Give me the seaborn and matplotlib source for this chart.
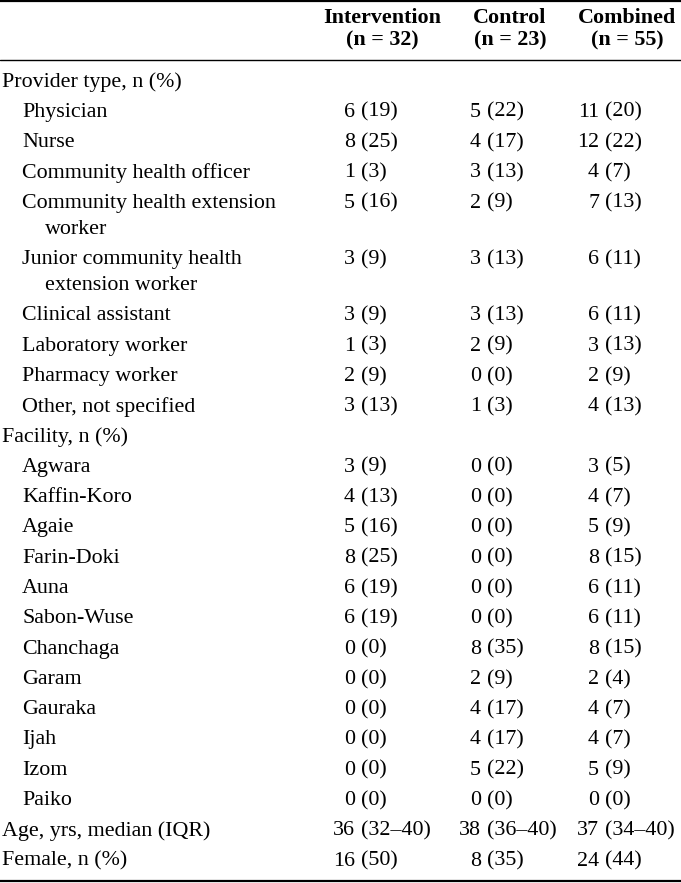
import matplotlib
matplotlib.use('Agg')
import matplotlib.pyplot as plt
import seaborn as sns
import pandas as pd

# -- Table content ------------------------------------------------------------
columns    = ['Intervention', 'Control', 'Combined']
col_counts = ['(n = 32)', '(n = 23)', '(n = 55)']

row_labels = [
    'Provider type, n (%)',
    'Physician', 'Nurse', 'Community health officer',
    'Community health extension\nworker',
    'Junior community health\nextension worker',
    'Clinical assistant', 'Laboratory worker', 'Pharmacy worker',
    'Other, not specified',
    'Facility, n (%)',
    'Agwara', 'Kaffin-Koro', 'Agaie', 'Farin-Doki', 'Auna', 'Sabon-Wuse',
    'Chanchaga', 'Garam', 'Gauraka', 'Ijah', 'Izom', 'Paiko',
    'Age, yrs, median (IQR)',
    'Female, n (%)',
]
row_level = [0, 1, 1, 1, 1, 1, 1, 1, 1, 1,
             0, 1, 1, 1, 1, 1, 1, 1, 1, 1, 1, 1, 1,
             0, 0]

intervention = ['', '6 (19)', '8 (25)', '1 (3)', '5 (16)', '3 (9)', '3 (9)', '1 (3)',
                '2 (9)', '3 (13)', '', '3 (9)', '4 (13)', '5 (16)', '8 (25)',
                '6 (19)', '6 (19)', '0 (0)', '0 (0)', '0 (0)', '0 (0)', '0 (0)',
                '0 (0)', '36 (32–40)', '16 (50)']
control = ['', '5 (22)', '4 (17)', '3 (13)', '2 (9)', '3 (13)', '3 (13)', '2 (9)',
           '0 (0)', '1 (3)', '', '0 (0)', '0 (0)', '0 (0)', '0 (0)', '0 (0)',
           '0 (0)', '8 (35)', '2 (9)', '4 (17)', '4 (17)', '5 (22)', '0 (0)',
           '38 (36–40)', '8 (35)']
combined = ['', '11 (20)', '12 (22)', '4 (7)', '7 (13)', '6 (11)', '6 (11)',
            '3 (13)', '2 (9)', '4 (13)', '', '3 (5)', '4 (7)', '5 (9)', '8 (15)',
            '6 (11)', '6 (11)', '8 (15)', '2 (4)', '4 (7)', '4 (7)', '5 (9)',
            '0 (0)', '37 (34–40)', '24 (44)']

df = pd.DataFrame({'label': row_labels, 'level': row_level,
                   'Intervention': intervention, 'Control': control,
                   'Combined': combined})

# -- Layout (pixels) ----------------------------------------------------------
W, H = 681, 883
FS = 15.8
FONT = ['Liberation Serif', 'DejaVu Serif']
head_x  = [382, 510, 627]      # header centres
paren_x = [361, 487, 605]      # where "(" of each cell starts
indent  = [2, 22]
wrap_indent = 45
first_row_y = 82
pitch, wrap_gap = 30.3, 26

sns.set_theme(style='white')
plt.rcParams['font.family'] = FONT
plt.rcParams['text.color'] = 'black'

fig = plt.figure(figsize=(W / 100, H / 100), dpi=100)
ax = fig.add_axes([0, 0, 1, 1])
ax.set_xlim(0, W)
ax.set_ylim(H, 0)
ax.axis('off')

# rules
ax.axhline(1.2, color='black', lw=1.6)
ax.axhline(60, color='black', lw=1.0)
ax.axhline(880.5, color='black', lw=1.6)

# header
for name, n, x in zip(columns, col_counts, head_x):
    ax.text(x, 18, name, ha='center', va='center', fontsize=FS, fontweight='bold')
    ax.text(x, 40, n, ha='center', va='center', fontsize=FS, fontweight='bold')

# body
y = first_row_y
for _, row in df.iterrows():
    lines = row['label'].split('\n')
    ax.text(indent[row['level']], y, lines[0], ha='left', va='center', fontsize=FS)
    for extra_i, extra in enumerate(lines[1:], start=1):
        ax.text(wrap_indent, y + extra_i * wrap_gap, extra,
                ha='left', va='center', fontsize=FS)
    for col, px in zip(columns, paren_x):
        cell = row[col]
        if not cell:
            continue
        num, rest = cell.split(' ', 1)
        ax.text(px - 6, y, num, ha='right', va='center', fontsize=FS)
        ax.text(px, y, rest, ha='left', va='center', fontsize=FS)
    y += pitch + (len(lines) - 1) * wrap_gap

fig.savefig('out.png', dpi=100, facecolor='white')
